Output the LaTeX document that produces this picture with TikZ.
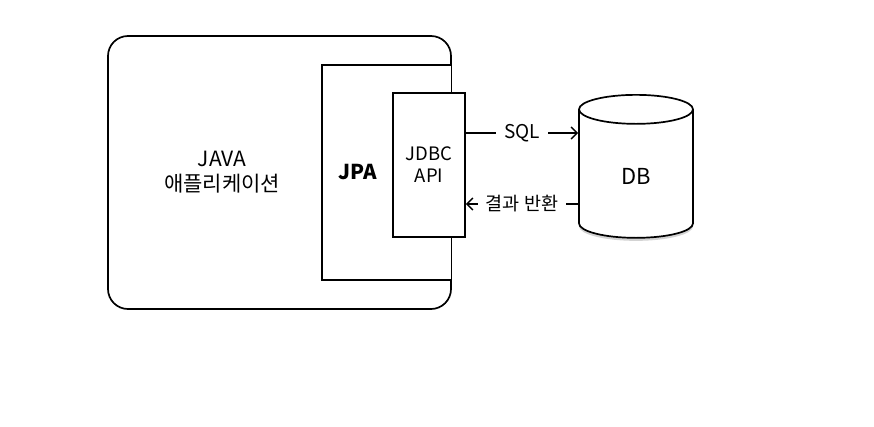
\documentclass[tikz,border=0pt]{standalone}
\usepackage{fontspec}
\setmainfont{Noto Sans CJK KR}
\usetikzlibrary{shapes.geometric,shadows,arrows.meta}

\tikzset{
  box/.style={draw, line width=1.7pt, fill=white, inner sep=0pt},
  flow/.style={line width=1.7pt, -{Straight Barb[length=6pt,width=12pt,line width=1.5pt]}},
  lbl/.style={fill=white, inner xsep=8pt, inner ysep=3pt}
}

\begin{document}
\begin{tikzpicture}[x=1pt,y=-1pt]
\useasboundingbox (0,0) rectangle (874,426);

% application box
\draw[line width=1.7pt, rounded corners=20pt] (108,36) rectangle (451,309);
\node[font=\fontsize{21}{25}\selectfont, align=center] (app) at (222,172) {JAVA\\애플리케이션};

% JPA and JDBC
\draw[box] (451,65) -- (322,65) -- (322,280) -- (451,280);
\node[font=\fontsize{20.5}{22}\selectfont\bfseries] (jpa) at (358,172) {JPA};
\node[box, minimum width=72pt, minimum height=144pt] (jdbc) at (429,165) {};
\node[font=\fontsize{18.5}{22}\selectfont, align=center] (api) at (jdbc) {JDBC\\API};

% database
\node[draw, line width=1.7pt, fill=white, cylinder, shape border rotate=90, aspect=0.8,
      minimum width=114pt, minimum height=143pt, anchor=north,
      drop shadow={shadow xshift=0pt, shadow yshift=-3pt, opacity=0.35},
      font=\fontsize{22}{24}\selectfont] (db) at (636,94) {DB};

% messages
\coordinate (sqly) at (0,133);
\coordinate (resy) at (0,204);
\draw[flow] (jdbc.east |- sqly) -- node[lbl, font=\fontsize{19}{20}\selectfont] (sql) {SQL} (db.west |- sqly);
\draw[flow] (db.west |- resy) -- node[lbl, font=\fontsize{18.5}{20}\selectfont] (res) {결과 반환} (jdbc.east |- resy);
\end{tikzpicture}
\end{document}
